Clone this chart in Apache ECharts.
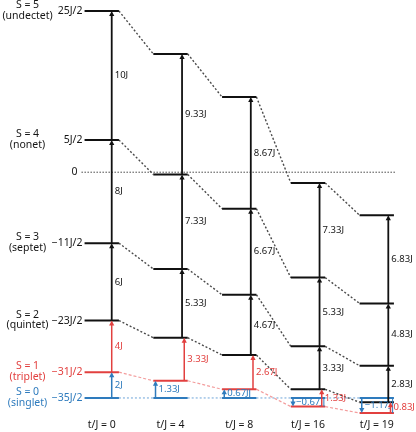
<!DOCTYPE html>
<html>
<head>
<meta charset="utf-8">
<script src="https://cdn.jsdelivr.net/npm/echarts@6/dist/echarts.min.js"></script>
<style>
html,body{margin:0;padding:0;background:#fff;}
#chart{width:416px;height:432px;}
</style>
</head>
<body>
<div id="chart"></div>
<script>
// ---- data ----
const columnLabels = ['t/J = 0', 't/J = 4', 't/J = 8', 't/J = 16', 't/J = 19'];
const spinLabels = ['S = 0', 'S = 1', 'S = 2', 'S = 3', 'S = 4', 'S = 5'];
const multiplicityLabels = ['(singlet)', '(triplet)', '(quintet)', '(septet)', '(nonet)', '(undectet)'];
const energyTickLabels = ['\u221235J/2', '\u221231J/2', '\u221223J/2', '\u221211J/2', '5J/2', '25J/2'];
const zeroLabel = '0';
// level energies (units of J) for S = 0..5 in each column
const levelsT0  = [-17.5, -15.5, -11.5, -5.5, 2.5, 12.5];
const levelsT4  = [-17.5, -16.17, -12.83, -7.5, -0.17, 9.17];
const levelsT8  = [-17.5, -16.83, -14.17, -9.5, -2.83, 5.83];
const levelsT16 = [-17.5, -18.17, -16.83, -13.5, -8.17, -0.83];
const levelsT19 = [-17.5, -18.67, -17.83, -15.0, -10.17, -3.33];
// gap labels S -> S+1
const gapsT0  = ['2J', '4J', '6J', '8J', '10J'];
const gapsT4  = ['1.33J', '3.33J', '5.33J', '7.33J', '9.33J'];
const gapsT8  = ['0.67J', '2.67J', '4.67J', '6.67J', '8.67J'];
const gapsT16 = ['\u22120.67J', '1.33J', '3.33J', '5.33J', '7.33J'];
const gapsT19 = ['\u22121.17J', '0.83J', '2.83J', '4.83J', '6.83J'];

const levels = [levelsT0, levelsT4, levelsT8, levelsT16, levelsT19];
const gaps = [gapsT0, gapsT4, gapsT8, gapsT16, gapsT19];

// ---- style ----
const FONT = "'Noto Sans', 'Open Sans', sans-serif";
const BLUE = '#2e7bbd';
const RED = '#e2403f';
const BLACK = '#111111';
const TEXT = '#151515';
const BLUE_LIGHT = '#9ec3e6';
const RED_LIGHT = '#f39c9c';
const GREY = '#4a4a4a';
const HW = 0.25; // half width of a level (x units)

function colorOf(S) { return S === 0 ? BLUE : (S === 1 ? RED : BLACK); }

const measureCtx = document.createElement('canvas').getContext('2d');
function textW(t, size) { measureCtx.font = size + 'px ' + FONT; return measureCtx.measureText(t).width; }

// build series data
const levelData = [], connData = [], arrowData = [];
levels.forEach((col, i) => {
  col.forEach((E, S) => {
    levelData.push([i, E, S]);
    if (i < levels.length - 1) connData.push([i, E, levels[i + 1][S], S]);
    if (S < col.length - 1) arrowData.push([i, E, col[S + 1], S]);
  });
});
const tickData = levelsT0.map((E, S) => [E, S]);

const chart = echarts.init(document.getElementById('chart'), null, {renderer: 'canvas'});

function lineEl(p1, p2, style) {
  return {type: 'line', shape: {x1: p1[0], y1: p1[1], x2: p2[0], y2: p2[1]}, style: style, silent: true};
}

const option = {
  animation: false,
  grid: {left: 0, right: 0, top: 0, bottom: 0},
  xAxis: {type: 'value', min: -1.48, max: 4.571, show: false},
  yAxis: {type: 'value', min: -20.14, max: 13.35, show: false},
  series: [
    { // zero reference line
      type: 'custom', data: [[0]],
      renderItem: function (params, api) {
        const p1 = api.coord([-HW - 0.045, 0]);
        const p2 = api.coord([levels.length - 1 + HW + 0.02, 0]);
        return {type: 'group', children: [
          lineEl(p1, p2, {stroke: GREY, lineWidth: 1, lineDash: [1.5, 1.5]}),
          {type: 'text', style: {text: zeroLabel, x: p1[0] - 4, y: p1[1], align: 'right', verticalAlign: 'middle', fill: TEXT, font: '10.5px ' + FONT}}
        ]};
      }
    },
    { // dashed connectors between columns
      type: 'custom', data: connData,
      renderItem: function (params, api) {
        const i = api.value(0), S = api.value(3);
        const p1 = api.coord([i + HW, api.value(1)]);
        const p2 = api.coord([i + 1 - HW, api.value(2)]);
        let style;
        if (S === 0) style = {stroke: BLUE_LIGHT, lineWidth: 1.5, lineDash: [2, 2]};
        else if (S === 1) style = {stroke: RED_LIGHT, lineWidth: 1.2, lineDash: [3, 2]};
        else style = {stroke: GREY, lineWidth: 1.4, lineDash: [2, 2]};
        return lineEl(p1, p2, style);
      }
    },
    { // energy levels
      type: 'custom', data: levelData,
      renderItem: function (params, api) {
        const i = api.value(0), E = api.value(1), S = api.value(2);
        const p1 = api.coord([i - HW, E]);
        const p2 = api.coord([i + HW, E]);
        return lineEl(p1, p2, {stroke: colorOf(S), lineWidth: 2});
      }
    },
    { // transition arrows with gap labels
      type: 'custom', data: arrowData,
      renderItem: function (params, api) {
        const i = api.value(0), E1 = api.value(1), E2 = api.value(2), S = api.value(3);
        let off;
        if (i === 0) off = 0.145;
        else if (S === 0) off = -0.218;
        else if (S === 1) off = 0.2;
        else off = 0.168;
        const x = i + off;
        const a = api.coord([x, E1]);
        const b = api.coord([x, E2]);
        const col = colorOf(S);
        const dir = b[1] < a[1] ? 1 : -1; // 1 = upward arrow
        const headL = 5, headW = 2.6;
        const children = [
          lineEl(a, [b[0], b[1] + dir * (headL - 1)], {stroke: col, lineWidth: S >= 2 ? 1.8 : 1.5}),
          {type: 'polygon', shape: {points: [[b[0], b[1]], [b[0] - headW, b[1] + dir * headL], [b[0] + headW, b[1] + dir * headL]]}, style: {fill: col}}
        ];
        const label = gaps[i][S];
        const tx = a[0] + 3;
        const ty = (a[1] + b[1]) / 2;
        children.push({type: 'text', style: {text: label, x: tx, y: ty, align: 'left', verticalAlign: 'middle', fill: S >= 2 ? TEXT : col, font: '9.5px ' + FONT}});
        if (S === 0 && i >= 2) {
          const bx = tx + textW(label, 9.5) + 1;
          children.push(lineEl([bx, a[1]], [bx, b[1]], {stroke: col, lineWidth: 1}));
        }
        return {type: 'group', children: children};
      }
    },
    { // left side labels: energies and spin names
      type: 'custom', data: tickData,
      renderItem: function (params, api) {
        const E = api.value(0), S = api.value(1);
        const p = api.coord([-HW - 0.03, E]);
        const q = api.coord([-1.08, E]);
        const col = colorOf(S) === BLACK ? TEXT : colorOf(S);
        return {type: 'group', children: [
          {type: 'text', style: {text: energyTickLabels[S], x: p[0], y: p[1], align: 'right', verticalAlign: 'middle', fill: col, font: '10.5px ' + FONT}},
          {type: 'text', style: {text: spinLabels[S] + '\n' + multiplicityLabels[S], x: q[0], y: q[1] - 0.5, align: 'center', verticalAlign: 'middle', fill: col, font: '10.5px ' + FONT, lineHeight: 10.5}}
        ]};
      }
    },
    { // column labels
      type: 'custom', data: columnLabels.map((t, i) => [i]),
      renderItem: function (params, api) {
        const i = api.value(0);
        const p = api.coord([i, -19.6]);
        return {type: 'text', style: {text: columnLabels[i], x: p[0], y: p[1], align: 'center', verticalAlign: 'middle', fill: TEXT, font: '10.5px ' + FONT}};
      }
    }
  ]
};
chart.setOption(option);
</script>
</body>
</html>
